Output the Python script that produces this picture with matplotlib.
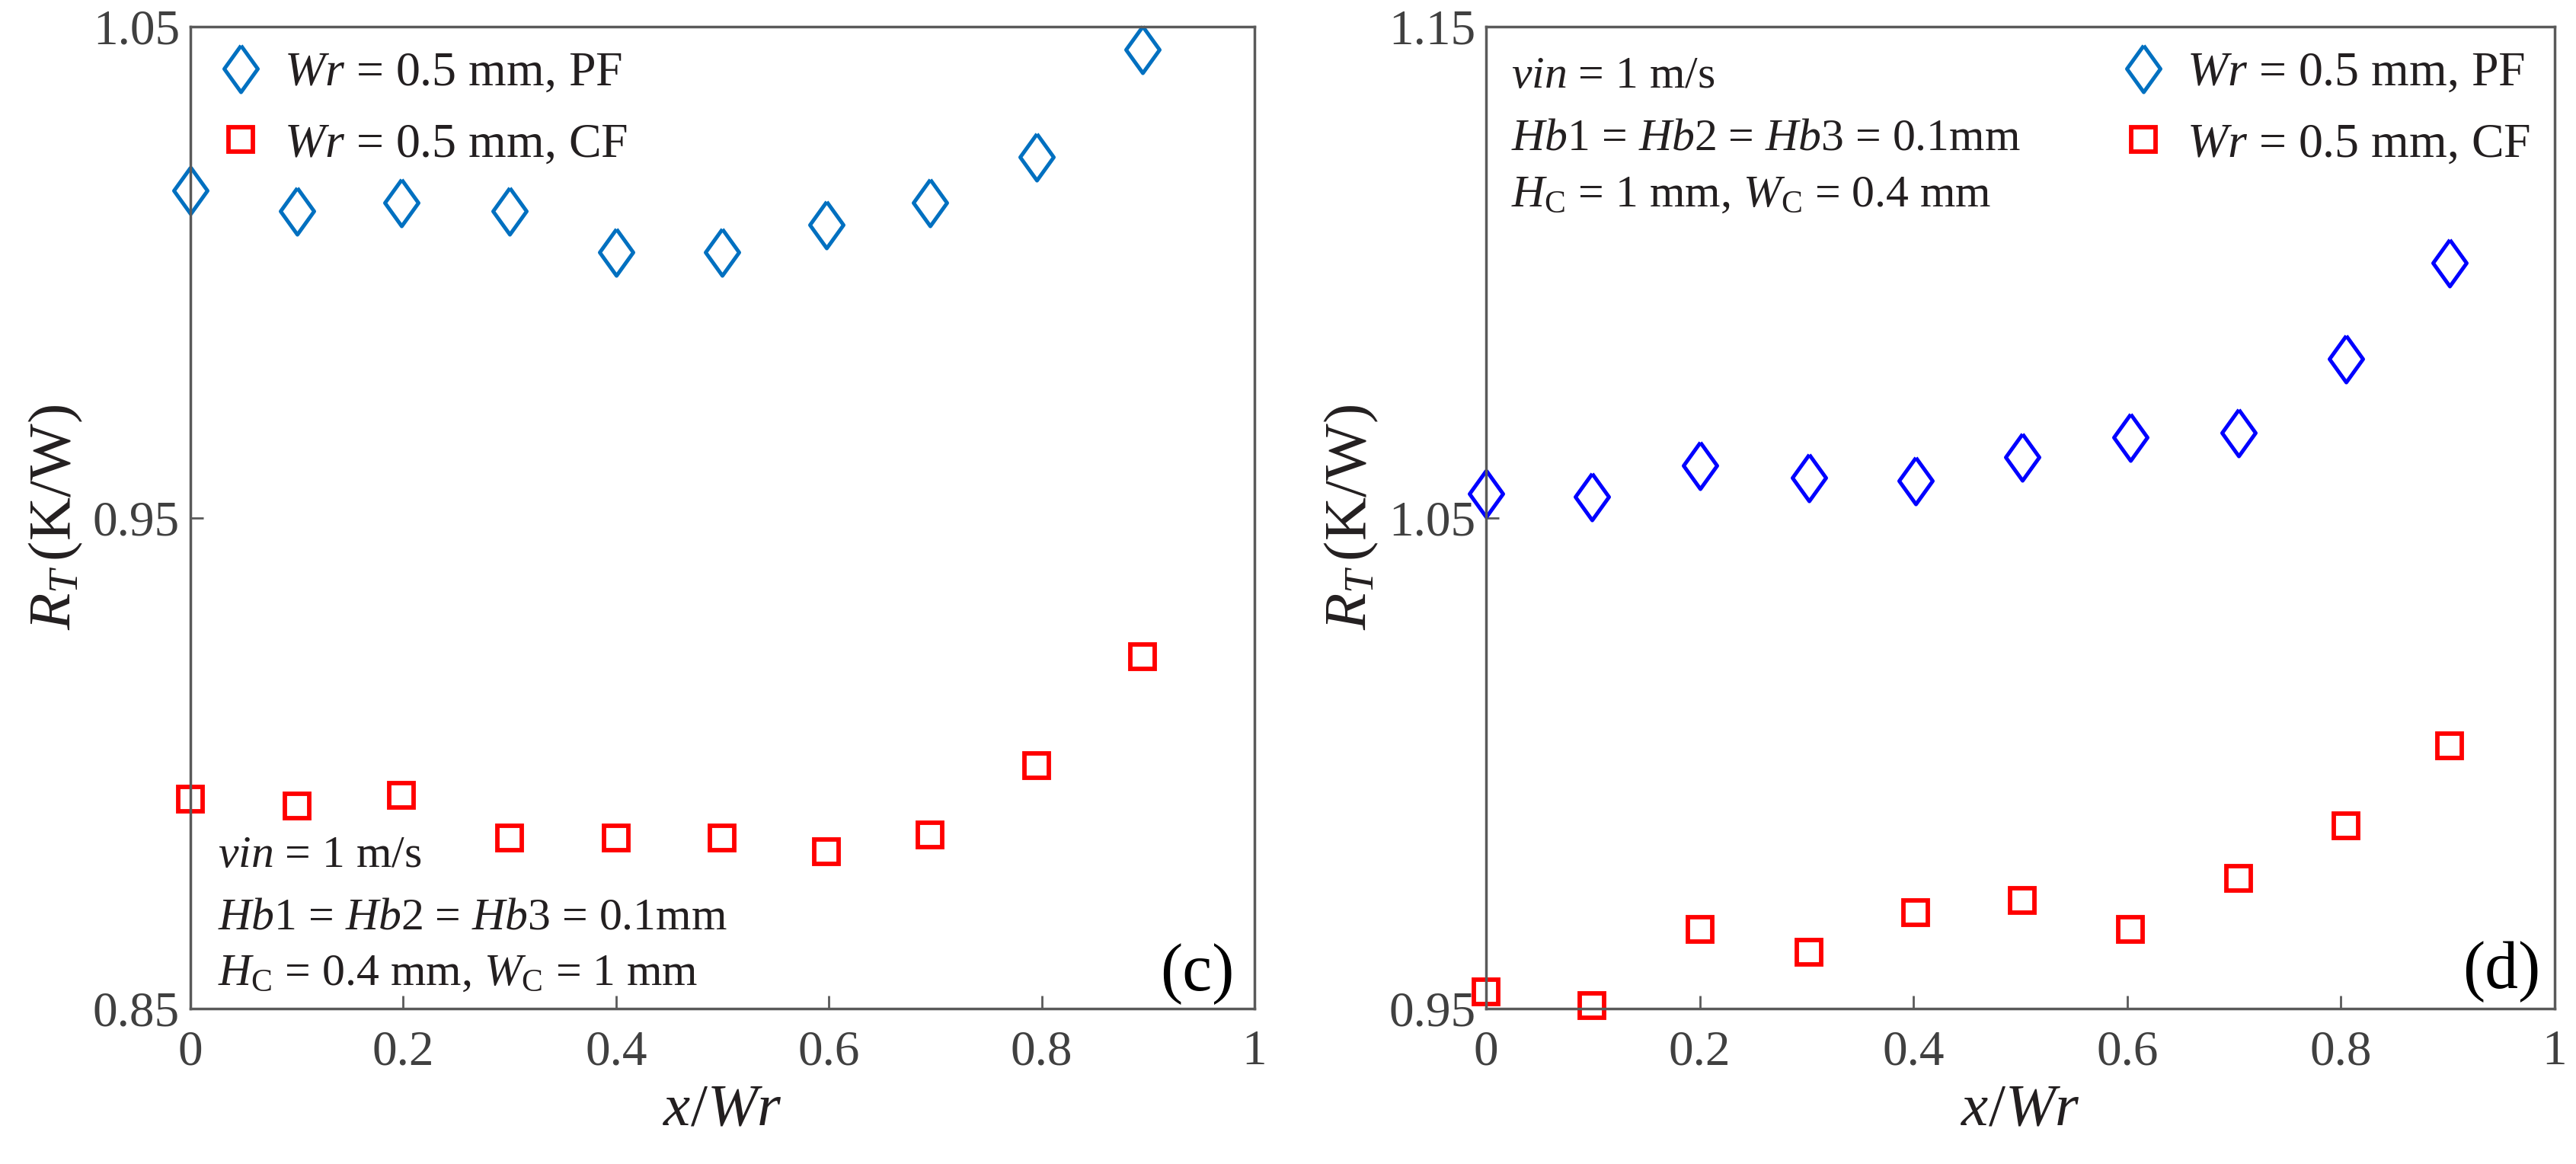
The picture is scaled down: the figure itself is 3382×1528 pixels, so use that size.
import numpy as np
import matplotlib
matplotlib.use("Agg")
import matplotlib.pyplot as plt
from matplotlib.lines import Line2D

plt.rcParams['font.family'] = ['Liberation Serif', 'DejaVu Serif']
plt.rcParams['mathtext.fontset'] = 'custom'
plt.rcParams['mathtext.rm'] = 'Liberation Serif'
plt.rcParams['mathtext.it'] = 'Liberation Serif:italic'
plt.rcParams['mathtext.bf'] = 'Liberation Serif:bold'

# data
x_c = [0.0, 0.1, 0.198, 0.3, 0.4, 0.5, 0.598, 0.695, 0.795, 0.895]
pf_c = [1.0167, 1.0124, 1.0141, 1.0124, 1.0040, 1.0040, 1.0097, 1.0141, 1.0235, 1.0453]
cf_c = [0.8927, 0.8913, 0.8934, 0.8847, 0.8847, 0.8847, 0.8820, 0.8853, 0.8995, 0.9217]

x_d = [0.0, 0.099, 0.2, 0.302, 0.402, 0.502, 0.603, 0.704, 0.805, 0.902]
pf_d = [1.0549, 1.0542, 1.0606, 1.0582, 1.0576, 1.0623, 1.0663, 1.0673, 1.0824, 1.1019]
cf_d = [0.9534, 0.9507, 0.9662, 0.9615, 0.9696, 0.9720, 0.9662, 0.9766, 0.9873, 1.0035]

xticks = [0, 0.2, 0.4, 0.6, 0.8, 1]
xtick_labels = ['0', '0.2', '0.4', '0.6', '0.8', '1']
yticks_c = [0.85, 0.95, 1.05]
yticks_d = [0.95, 1.05, 1.15]

lbl_pf = r'$Wr$ = 0.5 mm, PF'
lbl_cf = r'$Wr$ = 0.5 mm, CF'
notes_c = [r'$vin$ = 1 m/s', r'$Hb$1 = $Hb$2 = $Hb$3 = 0.1mm',
           r'$H_\mathrm{C}$ = 0.4 mm, $W_\mathrm{C}$ = 1 mm']
notes_d = [r'$vin$ = 1 m/s', r'$Hb$1 = $Hb$2 = $Hb$3 = 0.1mm',
           r'$H_\mathrm{C}$ = 1 mm, $W_\mathrm{C}$ = 0.4 mm']
notes_c_y = [0.144, 0.081, 0.024]
notes_d_y = [0.938, 0.875, 0.817]

TXT = '#231f20'
TICK = '#404040'
SPINE = '#5a5a5a'
PF_BLUE = '#0070c0'
RED = '#ff0000'

fig = plt.figure(figsize=(33.82, 15.28), dpi=100)
ax1 = fig.add_axes([0.0739, 0.1335, 0.4131, 0.8436])
ax2 = fig.add_axes([0.5769, 0.1335, 0.4148, 0.8436])

# diamond a bit wider than matplotlib's thin diamond
diamond = [(0, 1), (0.72, 0), (0, -1), (-0.72, 0), (0, 1)]
dia = dict(marker=diamond, linestyle='none', markersize=44, markerfacecolor='none',
           markeredgewidth=3.6, clip_on=False)
sq = dict(marker='s', linestyle='none', markersize=23, markerfacecolor='none',
          markeredgewidth=4.2, clip_on=False)


def style(ax, yticks):
    ax.set_xlim(0, 1)
    ax.set_ylim(yticks[0], yticks[-1])
    ax.set_xticks(xticks)
    ax.set_xticklabels(xtick_labels)
    ax.set_yticks(yticks)
    ax.set_yticklabels(['%.2f' % v for v in yticks])
    ax.tick_params(direction='in', length=12, width=2, colors=SPINE,
                   labelcolor=TICK, labelsize=47, pad=20)
    ax.tick_params(axis='y', pad=10)
    for s in ax.spines.values():
        s.set_color(SPINE)
        s.set_linewidth(2.5)
    ax.set_xlabel(r'$x/Wr$', fontsize=57, color=TXT, labelpad=8)
    ax.set_ylabel(r'$R_T\,$(K/W)', fontsize=57, color=TXT, labelpad=8)


def notes(ax, lines, ys, x0):
    for t, y in zip(lines, ys):
        ax.text(x0, y, t, transform=ax.transAxes, fontsize=43,
                color=TXT, va='baseline')


leg_kw = dict(frameon=False, fontsize=46, labelcolor=TXT, handlelength=0.8,
              handletextpad=0.49, labelspacing=0.55, borderpad=0,
              borderaxespad=0)

# (c)
ax1.plot(x_c, pf_c, color=PF_BLUE, **dia)
ax1.plot(x_c, cf_c, color=RED, **sq)
style(ax1, yticks_c)
h1 = [Line2D([], [], color=PF_BLUE, **dia), Line2D([], [], color=RED, **sq)]
ax1.legend(h1, [lbl_pf, lbl_cf], loc='upper left',
           bbox_to_anchor=(0.029, 0.975), **leg_kw)
notes(ax1, notes_c, notes_c_y, 0.026)
ax1.text(0.981, 0.004, '(c)', transform=ax1.transAxes, fontsize=63,
         color='black', ha='right', va='bottom')

# (d)
ax2.plot(x_d, pf_d, color='#0000ff', **dia)
ax2.plot(x_d, cf_d, color=RED, **sq)
style(ax2, yticks_d)
h2 = [Line2D([], [], color=PF_BLUE, **dia), Line2D([], [], color=RED, **sq)]
ax2.legend(h2, [lbl_pf, lbl_cf], loc='upper right',
           bbox_to_anchor=(0.977, 0.975), **leg_kw)
notes(ax2, notes_d, notes_d_y, 0.0235)
ax2.text(0.987, 0.006, '(d)', transform=ax2.transAxes, fontsize=63,
         color='black', ha='right', va='bottom')

fig.savefig('out.png', dpi=100)
